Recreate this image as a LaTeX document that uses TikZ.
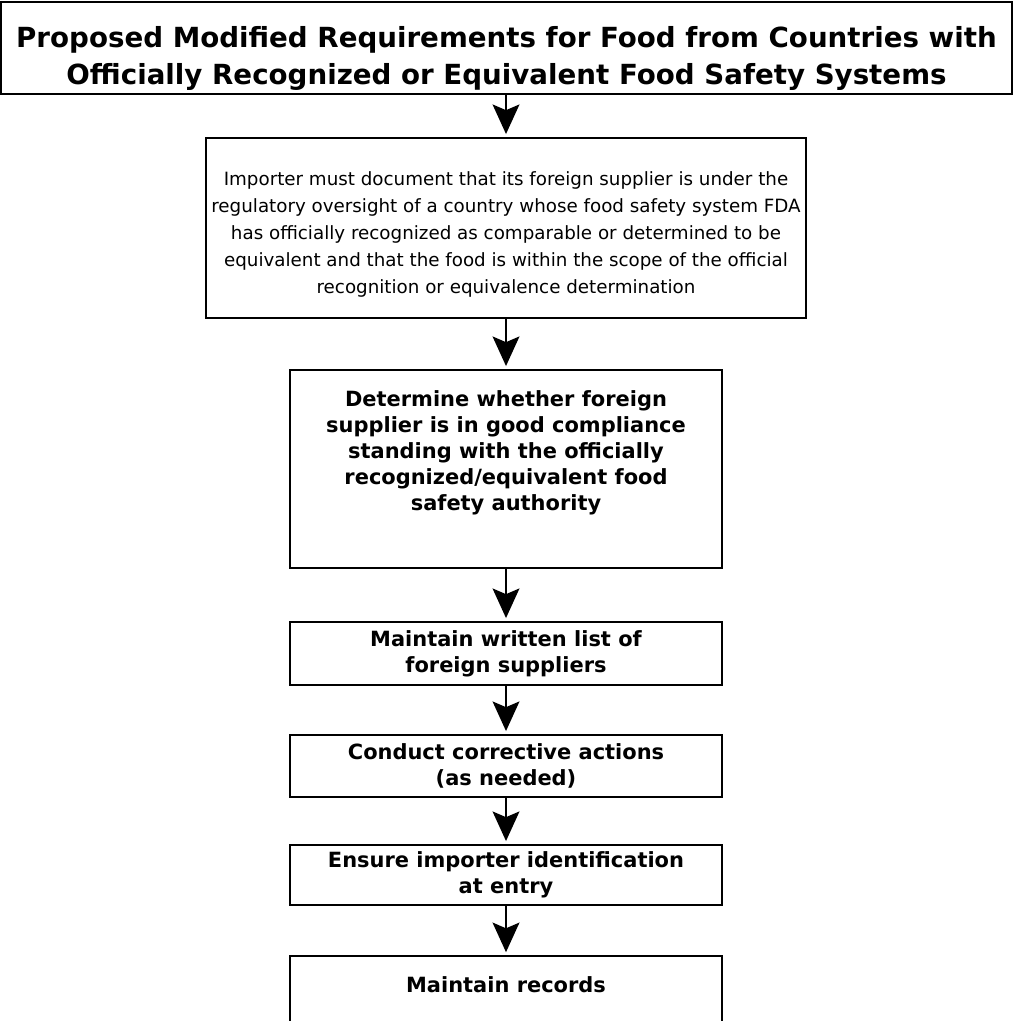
\documentclass[tikz,border=0pt]{standalone}
\usepackage{fontspec}
\setmainfont{DejaVu Sans}
\usetikzlibrary{arrows.meta}

\begin{document}
\begin{tikzpicture}[
	box/.style={shape=rectangle, draw=black, line width=1.6pt, align=center, inner xsep=4pt, inner ysep=0pt},
	plain/.style={font=\fontsize{13.0}{19.2}\selectfont},
	heavy/.style={font=\bfseries\fontsize{14.9}{18.5}\selectfont},
	flow/.style={-{Stealth[length=21pt, width=19pt, inset=4pt]}, line width=1.8pt, shorten >=2pt},
	]
	\useasboundingbox (0,0) rectangle (25.375,-25.525);

	\node[box, minimum width=25.275cm, minimum height=2.3cm, font=\bfseries\fontsize{19.7}{26.3}\selectfont]
		(title) at (12.6625,-1.2) {\rule{0pt}{1.05cm}Proposed Modified Requirements for Food from Countries with\\Officially Recognized or Equivalent Food Safety Systems};
	\node[box, plain, minimum width=15cm, minimum height=4.5cm]
		(document) at (12.65,-5.7) {\rule{0pt}{0.65cm}Importer must document that its foreign supplier is under the\\regulatory oversight of a country whose food safety system FDA\\has officially recognized as comparable or determined to be\\equivalent and that the food is within the scope of the official\\recognition or equivalence determination};
	\node[box, heavy, minimum width=10.8cm, minimum height=4.95cm]
		(standing) at (12.65,-11.725) {Determine whether foreign\\supplier is in good compliance\\standing with the officially\\recognized/equivalent food\\safety authority\rule[-0.9cm]{0pt}{0.9cm}};
	\node[box, heavy, minimum width=10.8cm, minimum height=1.575cm]
		(list) at (12.65,-16.3375) {Maintain written list of\\foreign suppliers};
	\node[box, heavy, minimum width=10.8cm, minimum height=1.55cm]
		(corrective) at (12.65,-19.15) {Conduct corrective actions\\(as needed)};
	\node[box, heavy, minimum width=10.8cm, minimum height=1.5cm]
		(entry) at (12.65,-21.875) {Ensure importer identification\\at entry};
	\node[box, heavy, minimum width=10.8cm, anchor=north, text depth=2cm]
		(records) at (12.65,-23.875) {\rule{0pt}{0.9cm}Maintain records};

	\path [flow] (title.south -| document) edge (document);
	\path [flow] (document) edge (standing);
	\path [flow] (standing) edge (list);
	\path [flow] (list) edge (corrective);
	\path [flow] (corrective) edge (entry);
	\path [flow] (entry) edge (records);
\end{tikzpicture}
\end{document}
